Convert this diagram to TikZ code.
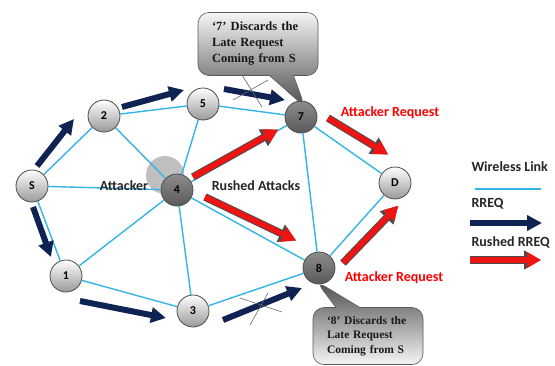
\documentclass[tikz,border=0pt]{standalone}
\usepackage{fontspec}
\setmainfont{Carlito}
\newfontfamily\calloutfont{Liberation Serif}
\usepackage{tikz}
\usetikzlibrary{arrows.meta, shapes.callouts}
\definecolor{linkBlue}{HTML}{33B5E8}
\definecolor{rreqBlue}{HTML}{0F2352}
\definecolor{rushRed}{HTML}{EE1414}
\tikzstyle{fNode} = [circle, minimum size=32pt, inner sep=0pt, draw=black!70, line width=0.8pt, top color=white, bottom color=black!40, font=\bfseries\fontsize{12}{12}\selectfont]
\tikzstyle{fAttack} = [fNode, top color=black!45, bottom color=black!65]
\tikzstyle{fLink} = [linkBlue, line width=1.4pt]
\tikzstyle{fRreq} = [draw=rreqBlue, line width=6pt, -{Triangle[length=15pt, width=15pt]}]
\tikzstyle{fRushed} = [preaction={draw=black!70, line width=7.6pt, -{Triangle[length=17pt, width=18pt]}}, draw=rushRed, line width=5.6pt, shorten >=1pt, -{Triangle[length=14pt, width=15pt]}]
\tikzstyle{fCross} = [black!60, line width=0.6pt]
\tikzstyle{fCallout} = [rectangle callout, rounded corners=11pt, callout pointer width=24pt, draw=black!65, line width=0.6pt, align=left, text=black!90, font=\calloutfont\bfseries\fontsize{12.5}{16}\selectfont]
\tikzstyle{fLabel} = [font=\bfseries\fontsize{14}{14}\selectfont, text=black!85]
\tikzstyle{fRedLabel} = [fLabel, text=red]

\begin{document}
\begin{tikzpicture}[x=1pt, y=-1pt]
    \path[use as bounding box, fill=white] (0,0) rectangle (555,365);

    % attacker halo
    \fill[black!25] (165,175) circle (19pt);

    \node (nS) [fNode] at (32,186) {S};
    \node (n1) [fNode] at (66,276) {1};
    \node (n2) [fNode] at (104,116) {2};
    \node (n3) [fNode] at (193,311) {3};
    \node (n4) [fAttack] at (177,190) {4};
    \node (n5) [fNode] at (203,104) {5};
    \node (n7) [fAttack] at (301,117) {7};
    \node (n8) [fAttack] at (319,268) {8};
    \node (nD) [fNode] at (395,183) {D};

    % wireless links
    \draw [fLink] (nS) -- (n2);
    \draw [fLink] (nS) -- (n1);
    \draw [fLink] (nS) -- (n4);
    \draw [fLink] (n2) -- (n5);
    \draw [fLink] (n2) -- (n4);
    \draw [fLink] (n5) -- (n7);
    \draw [fLink] (n5) -- (n4);
    \draw [fLink] (n4) -- (n7);
    \draw [fLink] (n4) -- (n1);
    \draw [fLink] (n4) -- (n3);
    \draw [fLink] (n4) -- (n8);
    \draw [fLink] (n1) -- (n3);
    \draw [fLink] (n3) -- (n8);
    \draw [fLink] (n7) -- (n8);
    \draw [fLink] (n7) -- (nD);
    \draw [fLink] (n8) -- (nD);

    % RREQ
    \draw [fRreq] ([shift={(5,-20)}]nS.center) -- ([shift={(-30,3)}]n2.center);
    \draw [fRreq] ([shift={(18,-9)}]n2.center) -- ([shift={(-19,-14)}]n5.center);
    \draw [fRreq] ([shift={(21,-15)}]n5.center) -- ([shift={(-16,-17)}]n7.center);
    \draw [fRreq] ([shift={(1,21)}]nS.center) -- ([shift={(-15,-19)}]n1.center);
    \draw [fRreq] ([shift={(14,25)}]n1.center) -- ([shift={(-27,7)}]n3.center);
    \draw [fRreq] ([shift={(30,9)}]n3.center) -- ([shift={(-17,20)}]n8.center);

    % rushed RREQ
    \draw [fRushed] ([shift={(16,-13)}]n4.center) -- ([shift={(-22,12)}]n7.center);
    \draw [fRushed] ([shift={(28,7)}]n4.center) -- ([shift={(-22,-27)}]n8.center);
    \draw [fRushed] ([shift={(27,1)}]n7.center) -- ([shift={(-6,-28)}]nD.center);
    \draw [fRushed] ([shift={(24,-5)}]n8.center) -- ([shift={(4,22)}]nD.center);

    % dropped requests
    \draw [fCross] (233,100) -- (268,80);
    \draw [fCross] (242,75) -- (262,107);
    \draw [fCross] (240,298) -- (282,312);
    \draw [fCross] (268,293) -- (250,325);

    \node (call7) [fCallout, top color=black!4, bottom color=black!70, minimum width=120pt, minimum height=63pt, text width=92pt, callout absolute pointer={([shift={(4,-10)}]n7.center)}] at (258,44) {‘7’ Discards the\\Late Request\\Coming from S};
    \node (call8) [fCallout, top color=black!70, bottom color=black!4, minimum width=110pt, minimum height=57pt, text width=82pt, font=\calloutfont\bfseries\fontsize{11.5}{14.5}\selectfont, callout absolute pointer={([shift={(-3,13)}]n8.center)}] at (368,336) {‘8’ Discards the\\Late Request\\Coming from S};

    \node (lbAttacker) [fLabel] at (124,186) {Attacker};
    \node (lbRushed) [fLabel] at (256,186) {Rushed Attacks};
    \node (lbReq7) [fRedLabel] at (390,113) {Attacker Request};
    \node (lbReq8) [fRedLabel] at (394,278) {Attacker Request};

    % legend
    \node (lgLink) [fLabel, anchor=west] at (468,167) {Wireless Link};
    \node (lgRreq) [fLabel, anchor=west] at (468,204) {RREQ};
    \node (lgRushed) [fLabel, anchor=west] at (468,242) {Rushed RREQ};
    \coordinate (lgLinkA) at (475,189);
    \coordinate (lgLinkB) at (541,189);
    \coordinate (lgRreqA) at (470,223);
    \coordinate (lgRreqB) at (542,223);
    \coordinate (lgRushedA) at (470,260);
    \coordinate (lgRushedB) at (542,260);
    \draw [fLink] (lgLinkA) -- (lgLinkB);
    \draw [fRreq] (lgRreqA) -- (lgRreqB);
    \draw [fRushed] (lgRushedA) -- (lgRushedB);
\end{tikzpicture}
\end{document}
